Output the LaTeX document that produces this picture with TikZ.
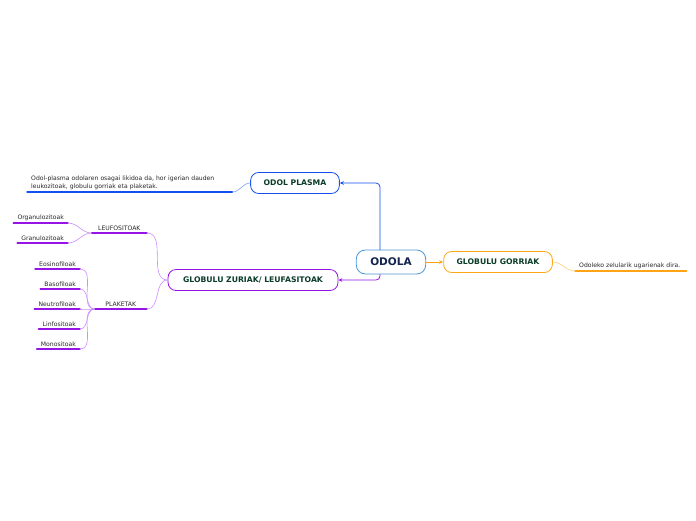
\documentclass[tikz,border=0pt]{standalone}
\usepackage{fontspec}
\setmainfont{DejaVu Sans}
\usetikzlibrary{arrows.meta}
\definecolor{rootblue}{RGB}{70,150,215}
\definecolor{plasmablue}{RGB}{20,80,240}
\definecolor{redorange}{RGB}{255,165,20}
\definecolor{whitepurple}{RGB}{150,20,230}
\definecolor{lightpurple}{RGB}{205,140,255}
\definecolor{boxtext}{RGB}{10,60,40}
\definecolor{roottext}{RGB}{20,35,80}
\begin{document}
\begin{tikzpicture}[x=1pt,y=-1pt,line join=round,line cap=round,
    box/.style={draw,fill=white,rounded corners=8pt,line width=0.8pt,inner xsep=13pt,minimum height=21pt,font=\fontsize{7.7}{9}\selectfont\bfseries,text=boxtext},
    leaf/.style={inner xsep=4pt,inner ysep=2.5pt,font=\fontsize{6.1}{7}\selectfont,text=black!85},
    desc/.style={inner xsep=4pt,inner ysep=2.5pt,align=left,font=\fontsize{6.1}{8}\selectfont,text=black!85},
    thickline/.style={line width=1.4pt},
    thinline/.style={line width=0.6pt},
    tip/.style={-{Stealth[length=4pt,width=3.5pt]}}]
  \useasboundingbox (0,0) rectangle (696,520);

  % main topic and its three branches
  \node[box,draw=rootblue,text=roottext,rounded corners=9pt,minimum height=24pt,inner xsep=14pt,font=\fontsize{10.5}{12}\selectfont\bfseries] (odola) at (391,262) {ODOLA};
  \node[box,draw=plasmablue] (plasma) at (295,183) {ODOL PLASMA};
  \node[box,draw=redorange] (gorriak) at (498,262) {GLOBULU GORRIAK};
  \node[box,draw=whitepurple,inner xsep=15pt] (zuriak) at (253,280) {GLOBULU ZURIAK/ LEUFASITOAK};

  \draw[plasmablue,line width=0.8pt,rounded corners=4pt,tip] ([xshift=-11pt]odola.north) |- (plasma.east);
  \draw[whitepurple,line width=0.8pt,rounded corners=4pt,tip] ([xshift=-11pt]odola.south) |- (zuriak.east);
  \draw[redorange,line width=0.8pt,tip] (odola.east) -- (gorriak.west);

  % notes
  \node[desc,text width=197pt,anchor=south west] (plasmatxt) at (27,192) {Odol-plasma odolaren osagai likidoa da, hor igerian dauden\\leukozitoak, globulu gorriak eta plaketak.};
  \draw[thickline,plasmablue] (plasmatxt.south west) -- (plasmatxt.south east);
  \draw[thinline,plasmablue!55] (plasma.west) to[out=180,in=0] (plasmatxt.south east);

  \node[desc,text width=103pt,anchor=south west] (gorriaktxt) at (575,271) {Odoleko zelularik ugarienak dira.};
  \draw[thickline,redorange] (gorriaktxt.south west) -- (gorriaktxt.south east);
  \draw[thinline,redorange!55] (gorriak.east) to[out=0,in=180] (gorriaktxt.south west);

  % white cells
  \node[leaf,minimum width=55pt,anchor=south east] (leufo) at (147,233) {LEUFOSITOAK};
  \node[leaf,minimum width=52pt,anchor=south east] (plaketak) at (147,309) {PLAKETAK};
  \draw[thickline,whitepurple] (leufo.south west) -- (leufo.south east);
  \draw[thickline,whitepurple] (plaketak.south west) -- (plaketak.south east);
  \draw[thinline,lightpurple] (zuriak.west) to[out=180,in=0] (leufo.south east);
  \draw[thinline,lightpurple] (zuriak.west) to[out=180,in=0] (plaketak.south east);

  \node[leaf,anchor=south east] (organ) at (68,223) {Organulozitoak};
  \node[leaf,anchor=south east] (granu) at (68,243) {Granulozitoak};
  \draw[thickline,whitepurple] (organ.south west) -- (organ.south east);
  \draw[thickline,whitepurple] (granu.south west) -- (granu.south east);
  \draw[thinline,lightpurple] (leufo.south west) to[out=180,in=0] (organ.south east);
  \draw[thinline,lightpurple] (leufo.south west) to[out=180,in=0] (granu.south east);

  \node[leaf,anchor=south east] (eosi) at (80,269) {Eosinofiloak};
  \node[leaf,anchor=south east] (baso) at (80,289) {Basofiloak};
  \node[leaf,anchor=south east] (neutro) at (80,309) {Neutrofiloak};
  \node[leaf,anchor=south east] (linfo) at (80,329) {Linfositoak};
  \node[leaf,anchor=south east] (mono) at (80,349) {Monositoak};
  \draw[thickline,whitepurple] (eosi.south west) -- (eosi.south east);
  \draw[thickline,whitepurple] (baso.south west) -- (baso.south east);
  \draw[thickline,whitepurple] (neutro.south west) -- (neutro.south east);
  \draw[thickline,whitepurple] (linfo.south west) -- (linfo.south east);
  \draw[thickline,whitepurple] (mono.south west) -- (mono.south east);
  \draw[thinline,lightpurple] (plaketak.south west) to[out=180,in=0] (eosi.south east);
  \draw[thinline,lightpurple] (plaketak.south west) to[out=180,in=0] (baso.south east);
  \draw[thinline,lightpurple] (plaketak.south west) to[out=180,in=0] (neutro.south east);
  \draw[thinline,lightpurple] (plaketak.south west) to[out=180,in=0] (linfo.south east);
  \draw[thinline,lightpurple] (plaketak.south west) to[out=180,in=0] (mono.south east);
\end{tikzpicture}
\end{document}
